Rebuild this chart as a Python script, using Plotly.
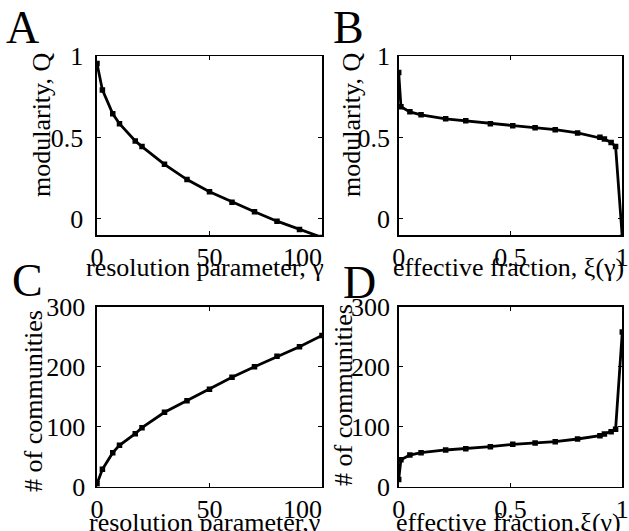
import plotly.graph_objects as go

# ---- data ----
gamma = [0, 2.4, 7, 10, 17, 20, 30, 40, 50, 60, 70, 80, 90, 100]
Q_gamma = [0.955, 0.793, 0.646, 0.585, 0.479, 0.444, 0.335, 0.241, 0.166, 0.102, 0.043, -0.015, -0.066, -0.115]
ncomm_gamma = [5, 29, 56.7, 69, 88.3, 98.3, 124, 143.3, 162.3, 182.3, 200, 217.3, 233.3, 252]

xi = [0, 0.01, 0.05, 0.10, 0.21, 0.30, 0.41, 0.51, 0.61, 0.70, 0.80, 0.90, 0.92, 0.95, 0.97, 1.0]
Q_xi = [0.9, 0.69, 0.658, 0.64, 0.615, 0.603, 0.585, 0.572, 0.56, 0.548, 0.528, 0.501, 0.491, 0.47, 0.445, -0.115]
ncomm_xi = [12, 45, 52.8, 56.7, 61.2, 63.4, 66.7, 70.6, 72.8, 75, 79.5, 85, 87.8, 91.7, 95.6, 258]

gamma_ticks = [0, 50, 100]
gamma_ticktext = ["0", "50", "100" + "\u00a0" * 6]   # last label sits left of its tick in the reference
xi_ticks = [0, 0.5, 1]
xi_ticktext = ["0", "0.5", "1"]
Q_ticks = [0, 0.5, 1]
Q_ticktext = ["0", "0.5", "1"]
n_ticks = [0, 100, 200, 300]
n_ticktext = ["0", "100", "200", "300"]

W, H = 629, 531
FONT = "Liberation Serif"
FS = 26

def px_x(a, b):
    return [a / W, b / W]

def px_y(top, bottom):
    return [1 - bottom / H, 1 - top / H]

fig = go.Figure()

line = dict(color="black", width=2.8)
marker = dict(symbol="square", size=5.5, color="black")

fig.add_trace(go.Scatter(x=gamma, y=Q_gamma, mode="lines+markers", line=line, marker=marker,
                         xaxis="x", yaxis="y", showlegend=False))
fig.add_trace(go.Scatter(x=xi, y=Q_xi, mode="lines+markers", line=line, marker=marker,
                         xaxis="x2", yaxis="y2", showlegend=False))
fig.add_trace(go.Scatter(x=gamma, y=ncomm_gamma, mode="lines+markers", line=line, marker=marker,
                         xaxis="x3", yaxis="y3", showlegend=False))
fig.add_trace(go.Scatter(x=xi, y=ncomm_xi, mode="lines+markers", line=line, marker=marker,
                         xaxis="x4", yaxis="y4", showlegend=False))

def ax(domain, rng, tickvals, ticktext, anchor, standoff):
    return dict(domain=domain, range=rng, tickvals=tickvals, ticktext=ticktext,
                anchor=anchor, showline=True, linecolor="black", linewidth=1.6,
                mirror="ticks", ticks="inside", ticklen=4, tickwidth=1.2, tickcolor="black",
                showgrid=False, zeroline=False, fixedrange=True, automargin=False,
                ticklabelstandoff=standoff,
                tickfont=dict(family=FONT, size=FS, color="black"))

xA, xB = px_x(97, 322), px_x(398.7, 622.3)
yTop, yBot = px_y(56.3, 235), px_y(306.7, 486.7)

fig.update_layout(
    width=W, height=H, margin=dict(l=0, r=0, t=0, b=0, autoexpand=False),
    paper_bgcolor="white", plot_bgcolor="white",
    xaxis=ax(xA, [0, 100], gamma_ticks, gamma_ticktext, "y", -2),
    yaxis=ax(yTop, [-0.1, 1], Q_ticks, Q_ticktext, "x", 7),
    xaxis2=ax(xB, [0, 1], xi_ticks, xi_ticktext, "y2", -2),
    yaxis2=ax(yTop, [-0.1, 1], Q_ticks, Q_ticktext, "x2", 2),
    xaxis3=ax(xA, [0, 100], gamma_ticks, gamma_ticktext, "y3", -2),
    yaxis3=ax(yBot, [0, 300], n_ticks, n_ticktext, "x3", 5),
    xaxis4=ax(xB, [0, 1], xi_ticks, xi_ticktext, "y4", -2),
    yaxis4=ax(yBot, [0, 300], n_ticks, n_ticktext, "x4", 2),
)

def text(s, x, y, size=FS, angle=0):
    fig.add_annotation(text=s, x=x / W, y=1 - y / H, xref="paper", yref="paper",
                       showarrow=False, textangle=angle, xanchor="center", yanchor="middle",
                       font=dict(family=FONT, size=size, color="black"))

# axis titles
text("resolution parameter, γ", 205, 267)
text("effective fraction, ξ(γ)", 508, 267)
text("resolution parameter,γ", 204, 522)
text("effective fraction,ξ(γ)", 508, 522)
text("modularity, Q", 41, 125, angle=-90)
text("modularity, Q", 351, 125, angle=-90)
text("# of communities", 33, 401, angle=-90)
text("# of communities", 343, 395, angle=-90)

# panel letters
text("A", 22, 28, size=46)
text("B", 349, 28, size=46)
text("C", 28, 280, size=46)
text("D", 359, 282, size=46)

# remove the default page margin so the 629x531 figure fills the window exactly
fig.write_html("out.html",
               config={"displayModeBar": False, "staticPlot": True},
               post_script="document.body.style.margin='0';document.body.style.overflow='hidden';")
